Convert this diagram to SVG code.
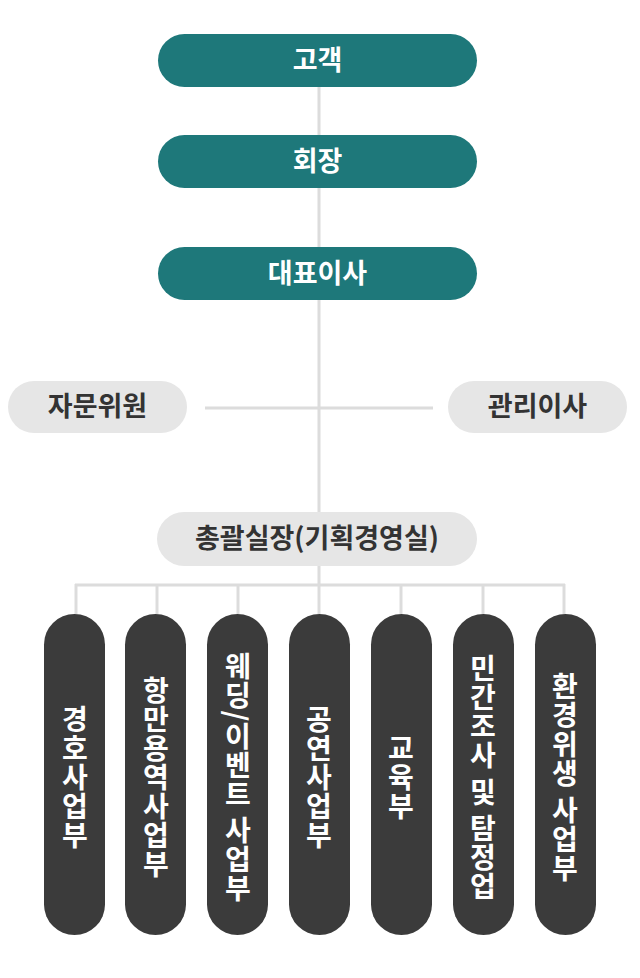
<svg xmlns="http://www.w3.org/2000/svg" width="640" height="978" viewBox="0 0 640 978">
<style>
.teal{fill:#1e787a}
.light{fill:#e6e6e6}
.dark{fill:#3b3b3b}
.t{font-family:"Noto Sans CJK KR","Noto Sans",sans-serif;font-weight:700;font-size:27px;text-anchor:middle}
.w{fill:#ffffff}
.g{fill:#333333}
.v{font-family:"Noto Sans CJK KR","Noto Sans",sans-serif;font-weight:700;font-size:28px;text-anchor:middle;fill:#ffffff;writing-mode:vertical-rl;letter-spacing:1px}
.ln{stroke:#dcdcdc;stroke-width:3;fill:none}
</style>
<g id="connectors">
<line class="ln" x1="319" y1="87" x2="319" y2="585"/>
<line class="ln" x1="205" y1="408" x2="433" y2="408"/>
<line class="ln" x1="75" y1="585" x2="565" y2="585"/>
<line class="ln" x1="76" y1="584" x2="76" y2="614"/>
<line class="ln" x1="157" y1="584" x2="157" y2="614"/>
<line class="ln" x1="238" y1="584" x2="238" y2="614"/>
<line class="ln" x1="319" y1="584" x2="319" y2="614"/>
<line class="ln" x1="401" y1="584" x2="401" y2="614"/>
<line class="ln" x1="483" y1="584" x2="483" y2="614"/>
<line class="ln" x1="564" y1="584" x2="564" y2="614"/>
</g>
<g id="customer"><rect class="teal" x="158" y="34" width="319" height="53" rx="26.5"/><text class="t w" x="317.5" y="70">고객</text></g>
<g id="chairman"><rect class="teal" x="158" y="135" width="319" height="53" rx="26.5"/><text class="t w" x="317.5" y="171">회장</text></g>
<g id="ceo"><rect class="teal" x="158" y="247" width="319" height="53" rx="26.5"/><text class="t w" x="317.5" y="283">대표이사</text></g>
<g id="advisor"><rect class="light" x="8" y="381" width="179" height="52" rx="26"/><text class="t g" x="97.5" y="416">자문위원</text></g>
<g id="director"><rect class="light" x="448" y="381" width="179" height="52" rx="26"/><text class="t g" x="537.5" y="416">관리이사</text></g>
<g id="general"><rect class="light" x="157" y="512" width="320" height="54" rx="27"/><text class="t g" x="317" y="548">총괄실장(기획경영실)</text></g>
<g id="d1"><rect class="dark" x="44" y="614" width="61" height="321" rx="30.5"/><text class="v" x="75" y="778">경호사업부</text></g>
<g id="d2"><rect class="dark" x="125" y="614" width="61" height="321" rx="30.5"/><text class="v" x="156" y="778">항만용역사업부</text></g>
<g id="d3"><rect class="dark" x="207" y="614" width="61" height="321" rx="30.5"/><text class="v" x="238" y="778">웨딩/이벤트 사업부</text></g>
<g id="d4"><rect class="dark" x="289" y="614" width="61" height="321" rx="30.5"/><text class="v" x="319" y="778">공연사업부</text></g>
<g id="d5"><rect class="dark" x="371" y="614" width="61" height="321" rx="30.5"/><text class="v" x="401" y="778">교육부</text></g>
<g id="d6"><rect class="dark" x="453" y="614" width="61" height="321" rx="30.5"/><text class="v" x="483" y="778">민간조사 및 탐정업</text></g>
<g id="d7"><rect class="dark" x="535" y="614" width="61" height="321" rx="30.5"/><text class="v" x="565" y="778">환경위생 사업부</text></g>
</svg>
